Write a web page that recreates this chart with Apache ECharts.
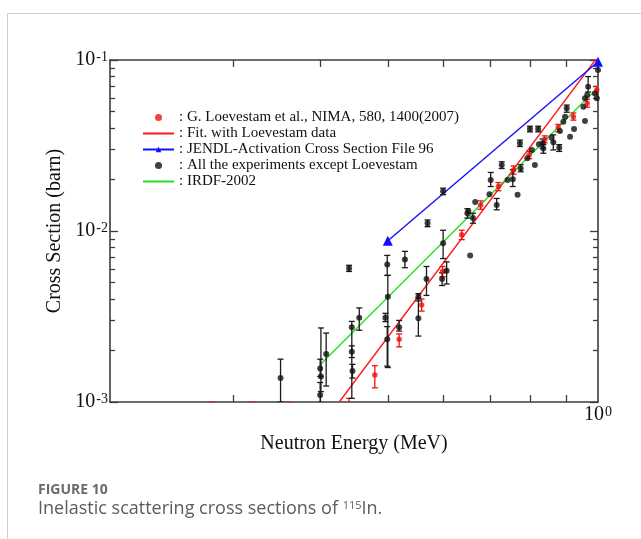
<!DOCTYPE html>
<html>
<head>
<meta charset="utf-8">
<script src="https://cdn.jsdelivr.net/npm/echarts@6/dist/echarts.min.js"></script>
<style>
  html, body { margin: 0; padding: 0; background: #fff; }
  #chart { width: 641px; height: 539px; }
</style>
</head>
<body>
<div id="chart"></div>
<script>
// [energy MeV, cross section barn, error low, error high]
const loevestam = [
  [0.280, 0.0008, 0.0006, 0.0010], [0.319, 0.0008, 0.0006, 0.0010],
  [0.360, 0.0008, 0.0006, 0.0010], [0.400, 0.0008, 0.0006, 0.0010],
  [0.440, 0.00098, 0.0009, 0.00105],
  [0.479, 0.00144, 0.00121, 0.00163], [0.519, 0.00233, 0.0021, 0.0025],
  [0.559, 0.00369, 0.0034, 0.0040], [0.599, 0.0058, 0.0054, 0.0062],
  [0.638, 0.0095, 0.0089, 0.0101], [0.679, 0.0142, 0.0134, 0.0150],
  [0.720, 0.0182, 0.0172, 0.0192], [0.757, 0.0227, 0.0215, 0.0240],
  [0.797, 0.0278, 0.0265, 0.0292], [0.839, 0.0344, 0.0328, 0.0360],
  [0.877, 0.0401, 0.0380, 0.0420], [0.922, 0.0466, 0.0445, 0.0490],
  [0.965, 0.0558, 0.0530, 0.0590], [0.996, 0.0668, 0.0630, 0.0700],
];
const otherExperiments = [
  [0.351, 0.00138, 0.0010, 0.00178], [0.400, 0.00110, 0.00095, 0.0013],
  [0.400, 0.00157, 0.00141, 0.00178], [0.401, 0.00141, 0.00115, 0.00271],
  [0.408, 0.00191, 0.00124, 0.00253], [0.440, 0.00605, 0.0058, 0.0063],
  [0.444, 0.00274, 0.00105, 0.00296], [0.444, 0.00197, 0.00182, 0.00213],
  [0.445, 0.00152, 0.00138, 0.00166], [0.455, 0.00311, 0.00263, 0.00355],
  [0.499, 0.00638, 0.0055, 0.0072], [0.500, 0.00413, 0.00159, 0.0055],
  [0.496, 0.00311, 0.00295, 0.0033], [0.499, 0.00233, 0.00162, 0.00276],
  [0.529, 0.00682, 0.0061, 0.0076], [0.519, 0.00274, 0.0026, 0.0030],
  [0.553, 0.00413, 0.0039, 0.0043], [0.553, 0.00309, 0.00243, 0.00404],
  [0.568, 0.00524, 0.0042, 0.0062], [0.570, 0.0111, 0.0106, 0.0116],
  [0.600, 0.00848, 0.0069, 0.0101], [0.598, 0.00524, 0.0048, 0.0057],
  [0.607, 0.00586, 0.0049, 0.0066], [0.600, 0.0171, 0.0163, 0.0178],
  [0.650, 0.0127, 0.0119, 0.0135], [0.662, 0.0119, 0.0111, 0.0127],
  [0.656, 0.00718, null, null], [0.667, 0.0148, null, null],
  [0.652, 0.0131, null, null], [0.699, 0.0164, null, null],
  [0.702, 0.0199, 0.0182, 0.0220], [0.716, 0.0142, 0.0133, 0.0155],
  [0.728, 0.0243, 0.0232, 0.0254], [0.742, 0.0199, null, null],
  [0.755, 0.0201, 0.0182, 0.0228], [0.767, 0.0163, null, null],
  [0.773, 0.0326, 0.0312, 0.0340], [0.775, 0.0232, 0.0222, 0.0244],
  [0.792, 0.0266, null, null], [0.799, 0.0395, 0.0380, 0.0410],
  [0.804, 0.0298, null, null], [0.812, 0.0243, null, null],
  [0.821, 0.0395, 0.0380, 0.0410], [0.823, 0.0322, null, null],
  [0.833, 0.0326, 0.0305, 0.0345], [0.835, 0.0304, 0.0285, 0.0320],
  [0.858, 0.0351, null, null], [0.863, 0.0330, 0.0298, 0.0365],
  [0.880, 0.0307, 0.0292, 0.0320], [0.882, 0.0384, null, null],
  [0.892, 0.0436, null, null], [0.897, 0.0466, null, null],
  [0.902, 0.0522, 0.0495, 0.0545], [0.912, 0.0356, null, null],
  [0.924, 0.0395, null, null], [0.953, 0.0533, null, null],
  [0.958, 0.0440, null, null], [0.958, 0.0597, null, null],
  [0.965, 0.0624, null, null], [0.968, 0.0698, 0.065, 0.080],
  [0.990, 0.0638, null, null], [0.996, 0.0597, null, null],
  [1.000, 0.0874, null, null],
];
const loevestamFit = [[0.426, 0.001], [1.0, 0.105]];
const jendl = [[0.500, 0.00877], [1.0, 0.0977]];
const irdf = [[0.400, 0.00165], [1.0, 0.069]];

const xTicks = [0.3, 0.4, 0.5, 0.6, 0.7, 0.8, 0.9];
const xLabels = [1];
const yMajor = [0.001, 0.01, 0.1];
const yMinor = [0.002, 0.003, 0.004, 0.005, 0.006, 0.007, 0.008, 0.009,
  0.02, 0.03, 0.04, 0.05, 0.06, 0.07, 0.08, 0.09];

const names = [
  'G. Loevestam et al., NIMA, 580, 1400(2007)',
  'Fit. with Loevestam data',
  'JENDL-Activation Cross Section File 96',
  'All the experiments except Loevestam',
  'IRDF-2002',
];

const serif = 'Liberation Serif, Times New Roman, serif';
const axisColor = '#3c3c3c';
const powerLabel = (v) => `{b|10}{s|${Math.round(Math.log10(v))}}`;
const labelRich = {
  b: { fontFamily: serif, fontSize: 20, color: '#111', verticalAlign: 'bottom', lineHeight: 20 },
  s: { fontFamily: serif, fontSize: 14, color: '#111', verticalAlign: 'top', lineHeight: 13, padding: [0, 0, 0, 1] },
};

const errorBars = (color) => (params, api) => {
  const x = api.value(0);
  const lo = api.coord([x, api.value(2)]);
  const hi = api.coord([x, api.value(3)]);
  const w = 3;
  const style = { stroke: color, lineWidth: 1.3 };
  return {
    type: 'group',
    children: [
      { type: 'line', shape: { x1: lo[0], y1: lo[1], x2: hi[0], y2: hi[1] }, style },
      { type: 'line', shape: { x1: lo[0] - w, y1: lo[1], x2: lo[0] + w, y2: lo[1] }, style },
      { type: 'line', shape: { x1: hi[0] - w, y1: hi[1], x2: hi[0] + w, y2: hi[1] }, style },
    ],
  };
};

const logX = (position, extra) => Object.assign({
  type: 'log', position, min: 0.2, max: 1,
  axisLine: { show: true, lineStyle: { color: axisColor, width: 1.6 } },
  axisTick: { show: true, inside: true, length: 7, customValues: xTicks, lineStyle: { color: axisColor, width: 1.3 } },
  axisLabel: { show: false },
  splitLine: { show: false },
  minorTick: { show: false },
}, extra);

const logY = (position, ticks, len, showLine, extra) => Object.assign({
  type: 'log', position, min: 0.001, max: 0.1,
  axisLine: { show: showLine, lineStyle: { color: axisColor, width: 1.6 } },
  axisTick: { show: true, inside: true, length: len, customValues: ticks, lineStyle: { color: axisColor, width: 1.3 } },
  axisLabel: { show: false },
  splitLine: { show: false },
}, extra);

const chart = echarts.init(document.getElementById('chart'), null, { renderer: 'canvas' });
chart.setOption({
  animation: false,
  backgroundColor: '#fff',
  grid: { left: 110, right: 43, top: 60, bottom: 137, containLabel: false },
  legend: {
    orient: 'vertical',
    left: 142,
    top: 110,
    padding: 0,
    itemGap: 1,
    itemWidth: 31,
    itemHeight: 7,
    data: [
      { name: names[0] },
      { name: names[1], itemStyle: { opacity: 0 } },
      { name: names[2] },
      { name: names[3] },
      { name: names[4], itemStyle: { opacity: 0 } },
    ],
    selectedMode: false,
    formatter: (name) => ': ' + name,
    textStyle: { fontFamily: serif, fontSize: 15, color: '#111', lineHeight: 15 },
  },
  xAxis: [
    logX('bottom', {
      name: 'Neutron Energy (MeV)',
      nameLocation: 'middle',
      nameGap: 32,
      nameTextStyle: { fontFamily: serif, fontSize: 20, color: '#111' },
      axisLabel: { show: true, customValues: xLabels, margin: 3, formatter: powerLabel, rich: labelRich },
    }),
    logX('top', {}),
  ],
  yAxis: [
    logY('left', yMajor, 8, true, {
      name: 'Cross Section (barn)',
      nameLocation: 'middle',
      nameGap: 44,
      nameTextStyle: { fontFamily: serif, fontSize: 20, color: '#111' },
      axisLabel: { show: true, customValues: yMajor, margin: 2, formatter: powerLabel, rich: labelRich },
    }),
    logY('right', yMajor, 8, true, {}),
    logY('left', yMinor, 5, false, {}),
    logY('right', yMinor, 5, false, {}),
  ],
  series: [
    {
      name: names[0], type: 'scatter', data: loevestam.map((d) => [d[0], d[1]]),
      symbol: 'circle', symbolSize: 5.5, itemStyle: { color: '#f01010' }, z: 4,
    },
    {
      name: 'loevestam-errors', type: 'custom', clip: true, z: 3,
      data: loevestam, renderItem: errorBars('#f01010'),
    },
    {
      name: names[1], type: 'line', data: loevestamFit, symbol: 'none',
      lineStyle: { color: '#ff1a1a', width: 1.4 }, itemStyle: { color: '#ff1a1a' }, z: 2,
    },
    {
      name: names[2], type: 'line', data: jendl, symbol: 'triangle', symbolSize: 10,
      lineStyle: { color: '#1010ff', width: 1.4 }, itemStyle: { color: '#1010ff' }, z: 2,
    },
    {
      name: names[3], type: 'scatter', data: otherExperiments.map((d) => [d[0], d[1]]),
      symbol: 'circle', symbolSize: 6, itemStyle: { color: '#111' }, z: 5,
    },
    {
      name: 'other-errors', type: 'custom', clip: true, z: 3,
      data: otherExperiments.filter((d) => d[2] !== null), renderItem: errorBars('#1a1a1a'),
    },
    {
      name: names[4], type: 'line', data: irdf, symbol: 'none',
      lineStyle: { color: '#22e022', width: 1.4 }, itemStyle: { color: '#22e022' }, z: 2,
    },
  ],
  graphic: [
    { type: 'line', silent: true, shape: { x1: 7, y1: 13.5, x2: 641, y2: 13.5 }, style: { stroke: '#cfcfcf', lineWidth: 1 } },
    { type: 'line', silent: true, shape: { x1: 7.5, y1: 13, x2: 7.5, y2: 539 }, style: { stroke: '#cfcfcf', lineWidth: 1 } },
    {
      type: 'text', left: 38, top: 483,
      style: { text: 'FIGURE 10', font: 'bold 14px "Open Sans", sans-serif', fill: '#6a6a6a' },
    },
    {
      type: 'text', left: 38, top: 500,
      style: {
        text: 'Inelastic scattering cross sections of {s|115}In.',
        font: '18px "Open Sans", sans-serif', fill: '#5c5c5c',
        rich: { s: { fontSize: 11, fontFamily: 'Open Sans', fill: '#5c5c5c', verticalAlign: 'top', lineHeight: 14 } },
      },
    },
  ],
});
</script>
</body>
</html>
